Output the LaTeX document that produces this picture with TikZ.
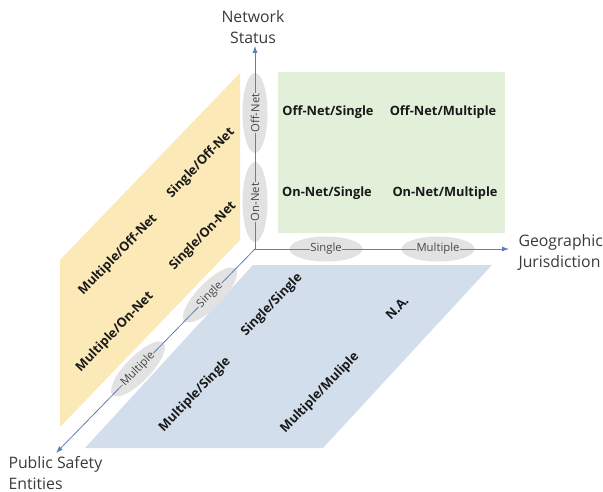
\documentclass[tikz,border=0pt]{standalone}
\usepackage{fontspec}
\setmainfont{Open Sans}
\usepackage{xcolor}
\usetikzlibrary{shapes.geometric,arrows.meta}

\definecolor{paneyellow}{HTML}{FCE9B8}
\definecolor{paneblue}{HTML}{D2DEEC}
\definecolor{panegreen}{HTML}{E2EFD9}
\definecolor{taggray}{HTML}{E2E2E2}
\definecolor{axisblue}{HTML}{5B80B8}
\definecolor{labelgray}{HTML}{3A3A3A}

\begin{document}
\begin{tikzpicture}[x=1pt,y=-1pt,
        axis/.style={axisblue, line width=0.8pt, -{Latex[length=7pt,width=5pt]}},
        tag/.style={ellipse, fill=taggray, minimum width=73pt, minimum height=25pt, inner sep=0pt},
        tagtext/.style={fill=taggray, inner sep=0.6pt, text=black!72, font=\fontsize{11.3}{12}\selectfont},
        cell/.style={font=\bfseries\fontsize{12.8}{14}\selectfont, text=black!90},
        axislabel/.style={font=\fontsize{15.8}{21}\selectfont, text=labelgray, align=left}]
                \useasboundingbox (0,0) rectangle (603,492);
                % the three planes
                \fill [paneyellow] (60,260) -- (240,73) -- (240,240) -- (60,427) -- cycle;
                \fill [panegreen] (278,72) rectangle (505,233);
                \fill [paneblue] (85,448) -- (323,448) -- (492,265) -- (253,265) -- cycle;
                % origin and axis ends
                \coordinate (O) at (255,249);
                \coordinate (NS) at (255,46);
                \coordinate (GJ) at (509,249);
                \coordinate (PS) at (56,453);
                % value ellipses on the axes
                \node [tag, rotate=90, minimum width=80pt] (offnet) at (255,113) {};
                \node [tag, rotate=90, minimum width=80pt] (onnet) at (255,202) {};
                \node [tag] (gsingle) at (326,249) {};
                \node [tag] (gmulti) at (438,249) {};
                \node [tag, rotate=45.7] (psingle) at (210,295) {};
                \node [tag, rotate=45.7] (pmulti) at (138,369) {};
                % axes
                \draw [axis] (O) -- (NS);
                \draw [axis] (O) -- (GJ);
                \draw [axis] (O) -- (PS);
                \node [tagtext, rotate=90] (offnet-t) at (offnet) {Off-Net};
                \node [tagtext, rotate=90] (onnet-t) at (onnet) {On-Net};
                \node [tagtext] (gsingle-t) at (gsingle) {Single};
                \node [tagtext] (gmulti-t) at (gmulti) {Multiple};
                \node [tagtext, rotate=45.7] (psingle-t) at (psingle) {Single};
                \node [tagtext, rotate=45.7] (pmulti-t) at (pmulti) {Multiple};
                % network / jurisdiction plane
                \node [cell] (ofs) at (328,112) {Off-Net/Single};
                \node [cell] (ofm) at (443,112) {Off-Net/Multiple};
                \node [cell] (ons) at (327,193) {On-Net/Single};
                \node [cell] (onm) at (445,193) {On-Net/Multiple};
                % entities / network plane
                \node [cell, rotate=46] (mof) at (118,255) {Multiple/Off-Net};
                \node [cell, rotate=46] (sof) at (201,163) {Single/Off-Net};
                \node [cell, rotate=46] (mon) at (115,332) {Multiple/On-Net};
                \node [cell, rotate=46] (son) at (203,236) {Single/On-Net};
                % entities / jurisdiction plane
                \node [cell, rotate=46] (ss) at (272,305) {Single/Single};
                \node [cell, rotate=46] (na) at (397,308) {N.A.};
                \node [cell, rotate=46] (ms) at (195,395) {Multiple/Single};
                \node [cell, rotate=46] (mm) at (320,393) {Multiple/Muliple};
                % axis names
                \node [axislabel, align=center] (nslabel) at (253,27) {Network\\Status};
                \node [axislabel, anchor=west] (gjlabel) at (515,252) {Geographic\\Jurisdiction};
                \node [axislabel, anchor=west] (pslabel) at (5,473) {Public Safety\\Entities};
\end{tikzpicture}
\end{document}
